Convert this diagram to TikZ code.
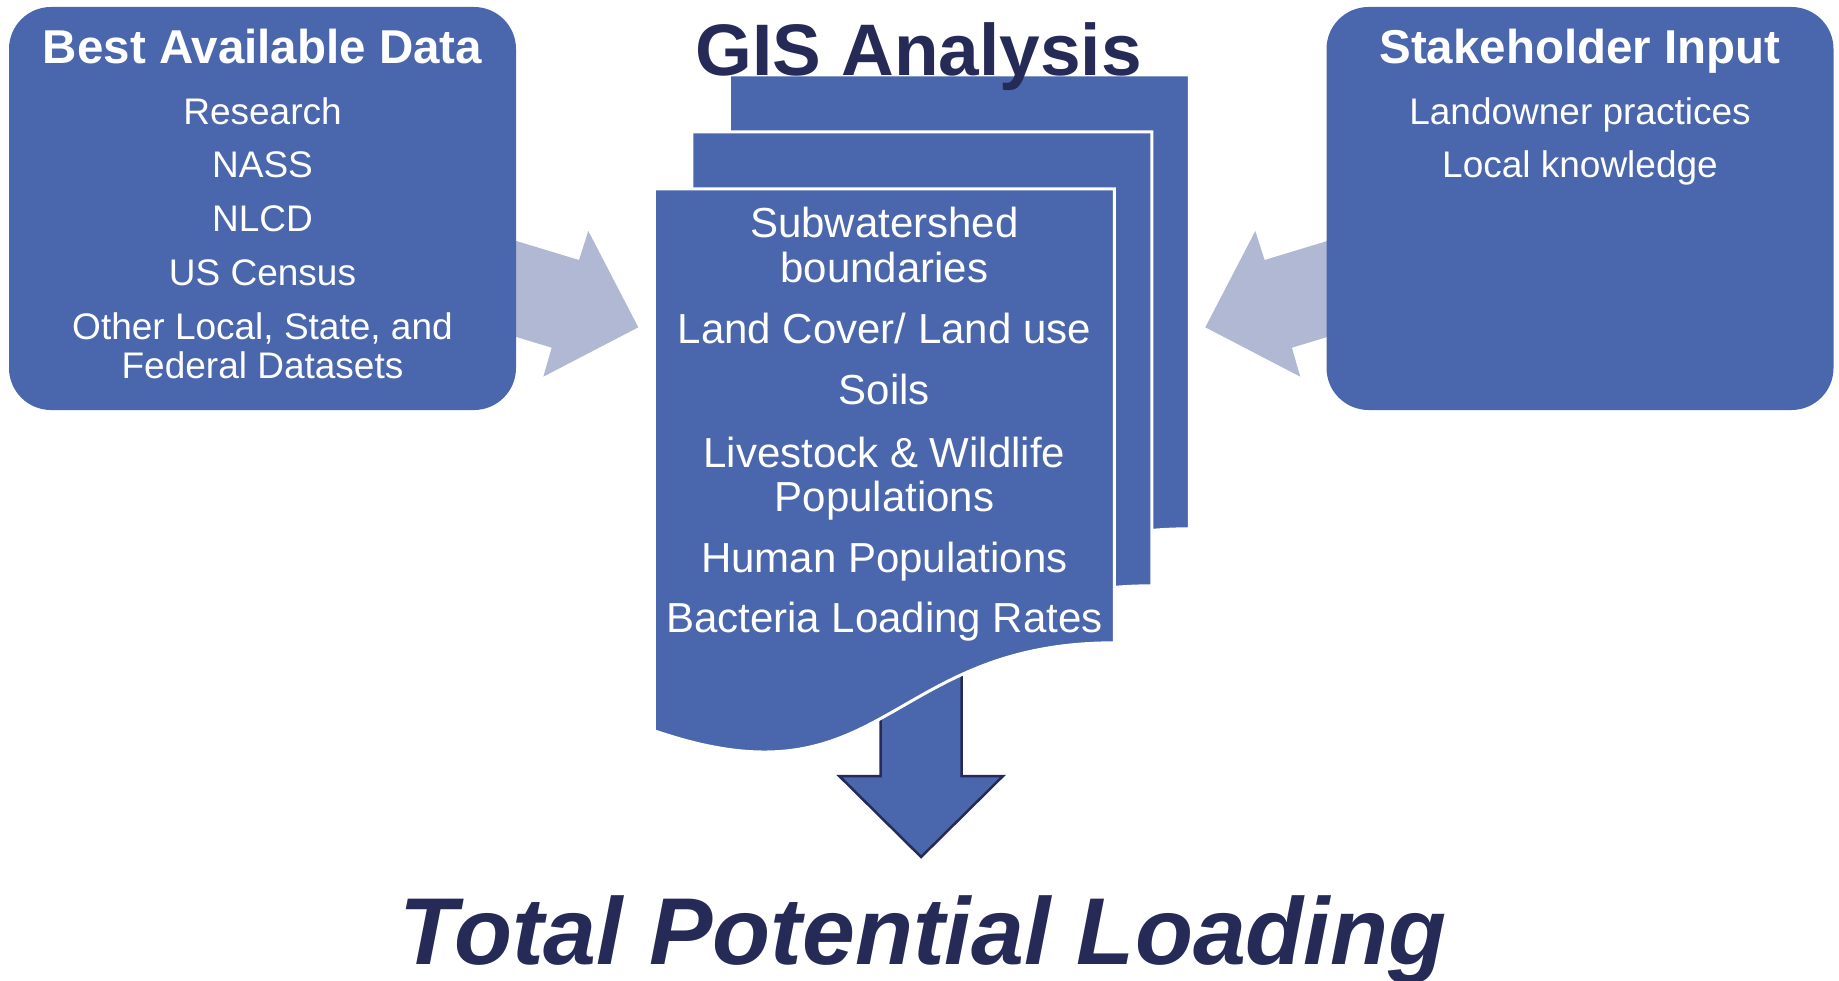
\documentclass[tikz,border=0pt]{standalone}
\usepackage{fontspec}
\setmainfont{Liberation Sans}

\definecolor{boxblue}{HTML}{4A66AC}
\definecolor{feedgray}{HTML}{B0B8D3}
\definecolor{navy}{HTML}{262A56}

\tikzset{
  box/.style={fill=boxblue, rounded corners=42pt, inner sep=0pt, outer sep=0pt},
  boxhead/.style={anchor=base, inner sep=0pt, text=white, font=\fontsize{47.5}{50}\selectfont\bfseries},
  boxitem/.style={anchor=base, inner sep=0pt, text=white, font=\fontsize{37}{39}\selectfont},
  pageitem/.style={anchor=base, inner sep=0pt, text=white, font=\fontsize{42}{45}\selectfont},
  page/.style={fill=boxblue, draw=white, line width=3pt},
  feed/.style={fill=feedgray},
}

% one sheet of the stack, top left corner at (#1,#2)
\newcommand\gispage[2]{%
  \begin{scope}[shift={(#1,#2)}]
    \filldraw[page] (0,0) -- (460,0) -- (460,454)
      .. controls (230,454) and (230,621) .. (0,542) -- cycle;
  \end{scope}}

\begin{document}
\begin{tikzpicture}[x=1pt,y=-1pt]
  \useasboundingbox (0,0) rectangle (1839,981);

  % inputs feeding the analysis
  \fill[feed] (482,230.6) -- (579,260) -- (588.3,231) -- (638.3,327.3)
    -- (543.3,376.7) -- (551.7,347.7) -- (482,326.6) -- cycle;
  \fill[feed] (1361.6,230.6) -- (1264.6,260) -- (1255.3,231) -- (1205.3,327.3)
    -- (1300.3,376.7) -- (1291.9,347.7) -- (1361.6,326.6) -- cycle;

  % data sources
  \node[box, minimum width=507pt, minimum height=403pt] (data) at (262.5,208.5) {};
  \node[boxhead] (datahead) at (262.5,63.7) {Best Available Data};
  \foreach \y/\t [count=\i] in {124.7/Research, 177.5/NASS, 231.4/NLCD,
      285.4/US Census, 339.3/{Other Local, State, and}, 378/Federal Datasets}
    \node[boxitem] (data\i) at (262.5,\y) {\t};

  % stakeholders
  \node[box, minimum width=507pt, minimum height=403pt] (stake) at (1580,208.5) {};
  \node[boxhead] (stakehead) at (1580,63.7) {Stakeholder Input};
  \node[boxitem] (stake1) at (1580,124.7) {Landowner practices};
  \node[boxitem] (stake2) at (1580,177.5) {Local knowledge};

  % stacked GIS layers with the result arrow behind the front sheet
  \gispage{729.4}{74.8}
  \gispage{691.9}{131.8}
  \filldraw[boxblue, draw=navy, line width=2.5pt, line join=miter]
    (880.6,640) -- (961.6,640) -- (961.6,776) -- (1003,776) -- (921.1,857)
    -- (839.2,776) -- (880.6,776) -- cycle;
  \gispage{654.4}{188.8}

  \node[anchor=base, inner sep=0pt, text=navy, font=\fontsize{73}{76}\selectfont\bfseries]
    (gis) at (918.5,76) {GIS Analysis};
  \foreach \y/\t [count=\i] in {238/Subwatershed, 283/boundaries,
      344/{Land Cover/ Land use}, 405/Soils, 467/Livestock \& Wildlife,
      511/Populations, 572/Human Populations, 632/Bacteria Loading Rates}
    \node[pageitem] (layer\i) at (884.4,\y) {\t};

  \node[anchor=base, inner sep=0pt, text=navy, font=\fontsize{95}{100}\selectfont\bfseries\itshape]
    (total) at (923,964) {Total Potential Loading};
\end{tikzpicture}
\end{document}
